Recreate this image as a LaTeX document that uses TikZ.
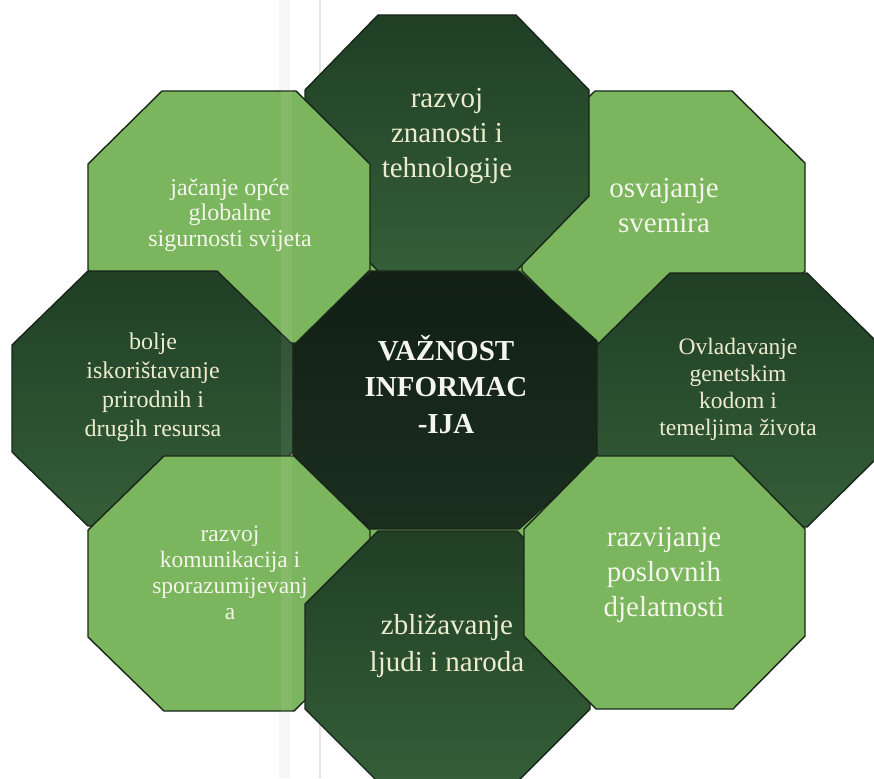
\documentclass[tikz,border=0pt]{standalone}
\usepackage{fontspec}
\setmainfont{Liberation Serif}
\definecolor{lightg}{RGB}{123,181,93}
\definecolor{darkA}{RGB}{32,63,37}
\definecolor{darkB}{RGB}{52,94,56}
\definecolor{centA}{RGB}{17,31,20}
\definecolor{centB}{RGB}{28,47,31}
\definecolor{edgec}{RGB}{24,38,26}
\definecolor{txtdark}{RGB}{236,235,206}
\definecolor{txtlight}{RGB}{244,246,236}
\newcommand\octa[7]{%
  \path[#1] ({#2+#6},#3) -- ({#4-#6},#3) -- (#4,{#3+#7}) -- (#4,{#5-#7})
    -- ({#4-#6},#5) -- ({#2+#6},#5) -- (#2,{#5-#7}) -- (#2,{#3+#7}) -- cycle;}
\tikzset{
  lightoct/.style={fill=lightg, draw=edgec, line width=1.4pt, line join=miter},
  darkoct/.style={top color=darkA, bottom color=darkB, draw=edgec, line width=1.4pt, line join=miter},
  centoct/.style={top color=centA, bottom color=centB, draw=edgec, line width=1.4pt, line join=miter},
  txt/.style={align=center, inner sep=0pt},
  bigtxt/.style={txt, font=\fontsize{29}{35}\selectfont},
}
\begin{document}
\begin{tikzpicture}[x=1pt, y=-1pt]
\useasboundingbox (0,0) rectangle (874,778);
\fill[white] (0,0) rectangle (874,778);
\clip (0,0) rectangle (874,778);
% faint scan streaks
\fill[gray!7] (279,0) rectangle (290,778);
\draw[gray!20, line width=1.2pt] (320,0) -- (320,778);
% filler behind the central joints
\fill[lightg] (300,262) rectangle (590,538);
% octagons, back to front
\octa{lightoct}{522}{91}{805}{343}{73}{72}
\octa{centoct}{293}{271}{597}{529}{78}{70}
\octa{darkoct}{305}{15}{589}{271}{73}{75}
\octa{lightoct}{88}{91}{370}{343}{74}{73}
\octa{darkoct}{12}{271}{293}{526}{76}{74}
\octa{lightoct}{88}{456}{370}{711}{76}{74}
\octa{darkoct}{305}{531}{590}{782}{73}{73}
\octa{darkoct}{597}{273}{880}{527}{73}{72}
\octa{lightoct}{524}{456}{805}{709}{72}{73}
% scan streak over the shapes
\fill[white, opacity=0.07] (281,0) rectangle (292,778);
% texts
\node[bigtxt, text=txtdark] (znanost) at (447,135.6)
  {\strut razvoj\\\strut znanosti i\\\strut tehnologije};
\node[bigtxt, text=txtlight] (svemir) at (664,207.8)
  {\strut osvajanje\\\strut svemira};
\node[txt, font=\fontsize{24}{25.5}\selectfont, text=txtlight] (sigurnost) at (230,215.4)
  {\strut jačanje opće\\\strut globalne\\\strut sigurnosti svijeta};
\node[txt, font=\fontsize{24}{28.7}\selectfont, text=txtdark] (resursi) at (153,387.3)
  {\strut bolje\\\strut iskorištavanje\\\strut prirodnih i\\\strut drugih resursa};
\node[txt, font=\bfseries\fontsize{29}{36.5}\selectfont, text=txtlight] (vaznost) at (446,389.2)
  {\strut VAŽNOST\\\strut INFORMAC\\\strut -IJA};
\node[txt, font=\fontsize{23.5}{26.7}\selectfont, text=txtdark] (genetika) at (738,389.7)
  {\strut Ovladavanje\\\strut genetskim\\\strut kodom i\\\strut temeljima života};
\node[txt, font=\fontsize{23.5}{25.7}\selectfont, text=txtlight] (komunikacija) at (230,575.4)
  {\strut razvoj\\\strut komunikacija i\\\strut sporazumijevanj\\\strut a};
\node[bigtxt, text=txtlight] (poslovanje) at (664,574)
  {\strut razvijanje\\\strut poslovnih\\\strut djelatnosti};
\node[txt, font=\fontsize{29}{37}\selectfont, text=txtdark] (ljudi) at (447,646)
  {\strut zbližavanje\\\strut ljudi i naroda};
\end{tikzpicture}
\end{document}
